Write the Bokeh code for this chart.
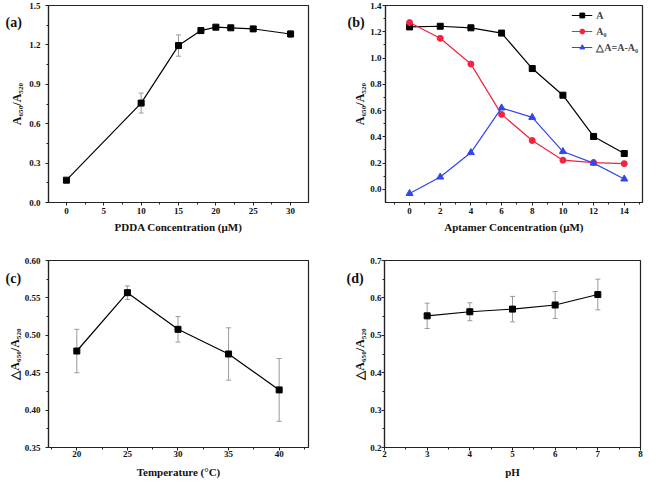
from bokeh.plotting import figure
from bokeh.layouts import column, row
from bokeh.models import (ColumnDataSource, Whisker, TeeHead, FixedTicker,
                          NumeralTickFormatter, Range1d)
from bokeh.embed import file_html
from bokeh.resources import INLINE

FONT = "Liberation Serif"

# ---- (a) PDDA concentration ----
pdda_conc = [0, 10, 15, 18, 20, 22, 25, 30]
pdda_ratio = [0.170, 0.757, 1.195, 1.309, 1.335, 1.330, 1.322, 1.283]
pdda_err = [0.004, 0.076, 0.081, 0.020, 0.012, 0.008, 0.012, 0.025]
a_xticks = [0, 5, 10, 15, 20, 25, 30]
a_yticks = [0.0, 0.3, 0.6, 0.9, 1.2, 1.5]

# ---- (b) Aptamer concentration ----
apt_conc = [0, 2, 4, 6, 8, 10, 12, 14]
apt_A = [1.237, 1.242, 1.230, 1.190, 0.920, 0.717, 0.403, 0.273]
apt_A0 = [1.270, 1.150, 0.954, 0.571, 0.372, 0.222, 0.204, 0.196]
apt_dA = [-0.031, 0.094, 0.280, 0.620, 0.548, 0.288, 0.200, 0.079]
b_xticks = [0, 2, 4, 6, 8, 10, 12, 14]
b_yticks = [0.0, 0.2, 0.4, 0.6, 0.8, 1.0, 1.2, 1.4]

# ---- (c) Temperature ----
temp = [20, 25, 30, 35, 40]
temp_ratio = [0.479, 0.557, 0.508, 0.475, 0.427]
temp_err = [0.029, 0.009, 0.017, 0.035, 0.042]
c_xticks = [20, 25, 30, 35, 40]
c_yticks = [0.35, 0.40, 0.45, 0.50, 0.55, 0.60]

# ---- (d) pH ----
ph = [3, 4, 5, 6, 7]
ph_ratio = [0.552, 0.563, 0.570, 0.581, 0.609]
ph_err = [0.034, 0.024, 0.034, 0.036, 0.041]
d_xticks = [2, 3, 4, 5, 6, 7, 8]
d_yticks = [0.2, 0.3, 0.4, 0.5, 0.6, 0.7]

AX = "#222222"


def minor_between(ticks, lo, hi):
    step = ticks[1] - ticks[0]
    out = []
    t = ticks[0]
    while t - step / 2.0 > lo:
        t -= step
    t -= step / 2.0
    while t < hi:
        if t > lo:
            out.append(round(t, 6))
        t += step / 2.0
    return out


def make_fig(w, h, xr, yr, xticks, yticks, yfmt, borders, xlabel, ylabel,
             ylab_standoff, ytick_standoff, xtick_standoff, xlab_standoff,
             panel, panel_offset, panel_standoff):
    p = figure(width=w, height=h, x_range=Range1d(*xr), y_range=Range1d(*yr),
               output_backend="svg", toolbar_location=None,
               min_border_left=borders[0], min_border_right=borders[1],
               min_border_top=borders[2], min_border_bottom=borders[3])
    p.grid.visible = False
    p.outline_line_color = AX
    p.outline_line_width = 1.2
    p.outline_line_alpha = 1.0
    p.xaxis.ticker = FixedTicker(ticks=xticks, minor_ticks=minor_between(xticks, xr[0], xr[1]))
    p.yaxis.ticker = FixedTicker(ticks=yticks, minor_ticks=minor_between(yticks, yr[0], yr[1]))
    p.yaxis.formatter = NumeralTickFormatter(format=yfmt)
    for ax in (p.xaxis[0], p.yaxis[0]):
        ax.axis_line_color = AX
        ax.axis_line_width = 1.2
        ax.major_tick_line_color = AX
        ax.minor_tick_line_color = AX
        ax.major_tick_out = 3
        ax.major_tick_in = 0
        ax.minor_tick_out = 2
        ax.minor_tick_in = 0
        ax.major_label_text_font = FONT
        ax.major_label_text_font_style = "bold"
        ax.major_label_text_font_size = "9px"
        ax.major_label_text_color = "#111111"
        ax.axis_label_text_font = FONT
        ax.axis_label_text_font_style = "bold"
        ax.axis_label_text_color = "#111111"
    p.xaxis.axis_label_text_font_size = "11px"
    p.yaxis.axis_label_text_font_size = "12px"
    p.xaxis.axis_label = xlabel
    p.yaxis.axis_label = ylabel
    p.xaxis.major_label_standoff = xtick_standoff
    p.xaxis.axis_label_standoff = xlab_standoff
    p.yaxis.major_label_standoff = ytick_standoff
    p.yaxis.axis_label_standoff = ylab_standoff
    # panel letter, drawn as the figure title pushed down beside the y axis
    p.title.text = panel
    p.title.align = "left"
    p.title.vertical_align = "bottom"
    p.title.offset = panel_offset
    p.title.standoff = panel_standoff
    p.title.text_font = FONT
    p.title.text_font_size = "14px"
    p.title.text_font_style = "bold"
    p.title.text_color = "#111111"
    return p


def add_err(p, xs, ys, es):
    src = ColumnDataSource(dict(x=xs, lower=[y - e for y, e in zip(ys, es)],
                                upper=[y + e for y, e in zip(ys, es)]))
    wk = Whisker(base="x", lower="lower", upper="upper", source=src,
                 line_color="#9a9a9a", line_width=1, level="underlay",
                 upper_head=TeeHead(size=5, line_color="#9a9a9a", line_width=1),
                 lower_head=TeeHead(size=5, line_color="#9a9a9a", line_width=1))
    p.add_layout(wk)


TOP_H = 236
BOT_H = 244

# (a)
pa = make_fig(326, TOP_H, (-2.4, 32.4), (0, 1.5), a_xticks, a_yticks, "0.0",
              (48, 18, 5, 34), "PDDA Concentration (μM)", "A₆₅₀/A₅₂₀", 2, 5, 2, 4,
              "(a)", -43, -48)
add_err(pa, pdda_conc, pdda_ratio, pdda_err)
pa.line(pdda_conc, pdda_ratio, line_color="#000000", line_width=1.2)
pa.scatter(pdda_conc, pdda_ratio, marker="square", size=6, color="#000000")

# (b)
pb = make_fig(319, TOP_H, (-1.57, 15.19), (-0.1, 1.4), b_xticks, b_yticks, "0.0",
              (59, 3, 5, 34), "Aptamer Concentration (μM)", "A₆₅₀/A₅₂₀", 0, 1, 2, 4,
              "(b)", -38, -48)
RED = "#f5213f"
BLUE = "#3346ee"
pb.line(apt_conc, apt_A, line_color="#000000", line_width=1.2, legend_label="A")
pb.scatter(apt_conc, apt_A, marker="square", size=6, color="#000000", legend_label="A")
pb.line(apt_conc, apt_A0, line_color=RED, line_width=1.2, legend_label="A₀")
pb.scatter(apt_conc, apt_A0, marker="circle", size=6, color=RED, legend_label="A₀")
pb.line(apt_conc, apt_dA, line_color=BLUE, line_width=1.2, legend_label="△A=A-A₀")
pb.scatter(apt_conc, apt_dA, marker="triangle", size=7, color=BLUE, legend_label="△A=A-A₀")
lg = pb.legend[0]
lg.location = "top_right"
lg.border_line_alpha = 0
lg.background_fill_alpha = 0
lg.label_text_font = FONT
lg.label_text_font_style = "bold"
lg.label_text_font_size = "10px"
lg.glyph_width = 21
lg.glyph_height = 12
lg.label_height = 12
lg.spacing = 4
lg.padding = 4
lg.margin = 0
lg.label_standoff = 4

# (c)
pc = make_fig(326, BOT_H, (17.2, 42.9), (0.35, 0.60), c_xticks, c_yticks, "0.00",
              (48, 18, 24, 31), "Temperature (°C)", "△A₆₅₀/A₅₂₀", 0, 5, 0, 6,
              "(c)", -43, -50)
add_err(pc, temp, temp_ratio, temp_err)
pc.line(temp, temp_ratio, line_color="#000000", line_width=1.2)
pc.scatter(temp, temp_ratio, marker="square", size=6, color="#000000")

# (d)
pd_ = make_fig(319, BOT_H, (2, 8), (0.2, 0.7), d_xticks, d_yticks, "0.0",
               (58, 5, 24, 31), "pH", "△A₆₅₀/A₅₂₀", 0, 0, 0, 6,
               "(d)", -38, -50)
add_err(pd_, ph, ph_ratio, ph_err)
pd_.line(ph, ph_ratio, line_color="#000000", line_width=1.2)
pd_.scatter(ph, ph_ratio, marker="square", size=6, color="#000000")

layout = column(row(pa, pb), row(pc, pd_))
open("out.html", "w").write(file_html(layout, INLINE))
